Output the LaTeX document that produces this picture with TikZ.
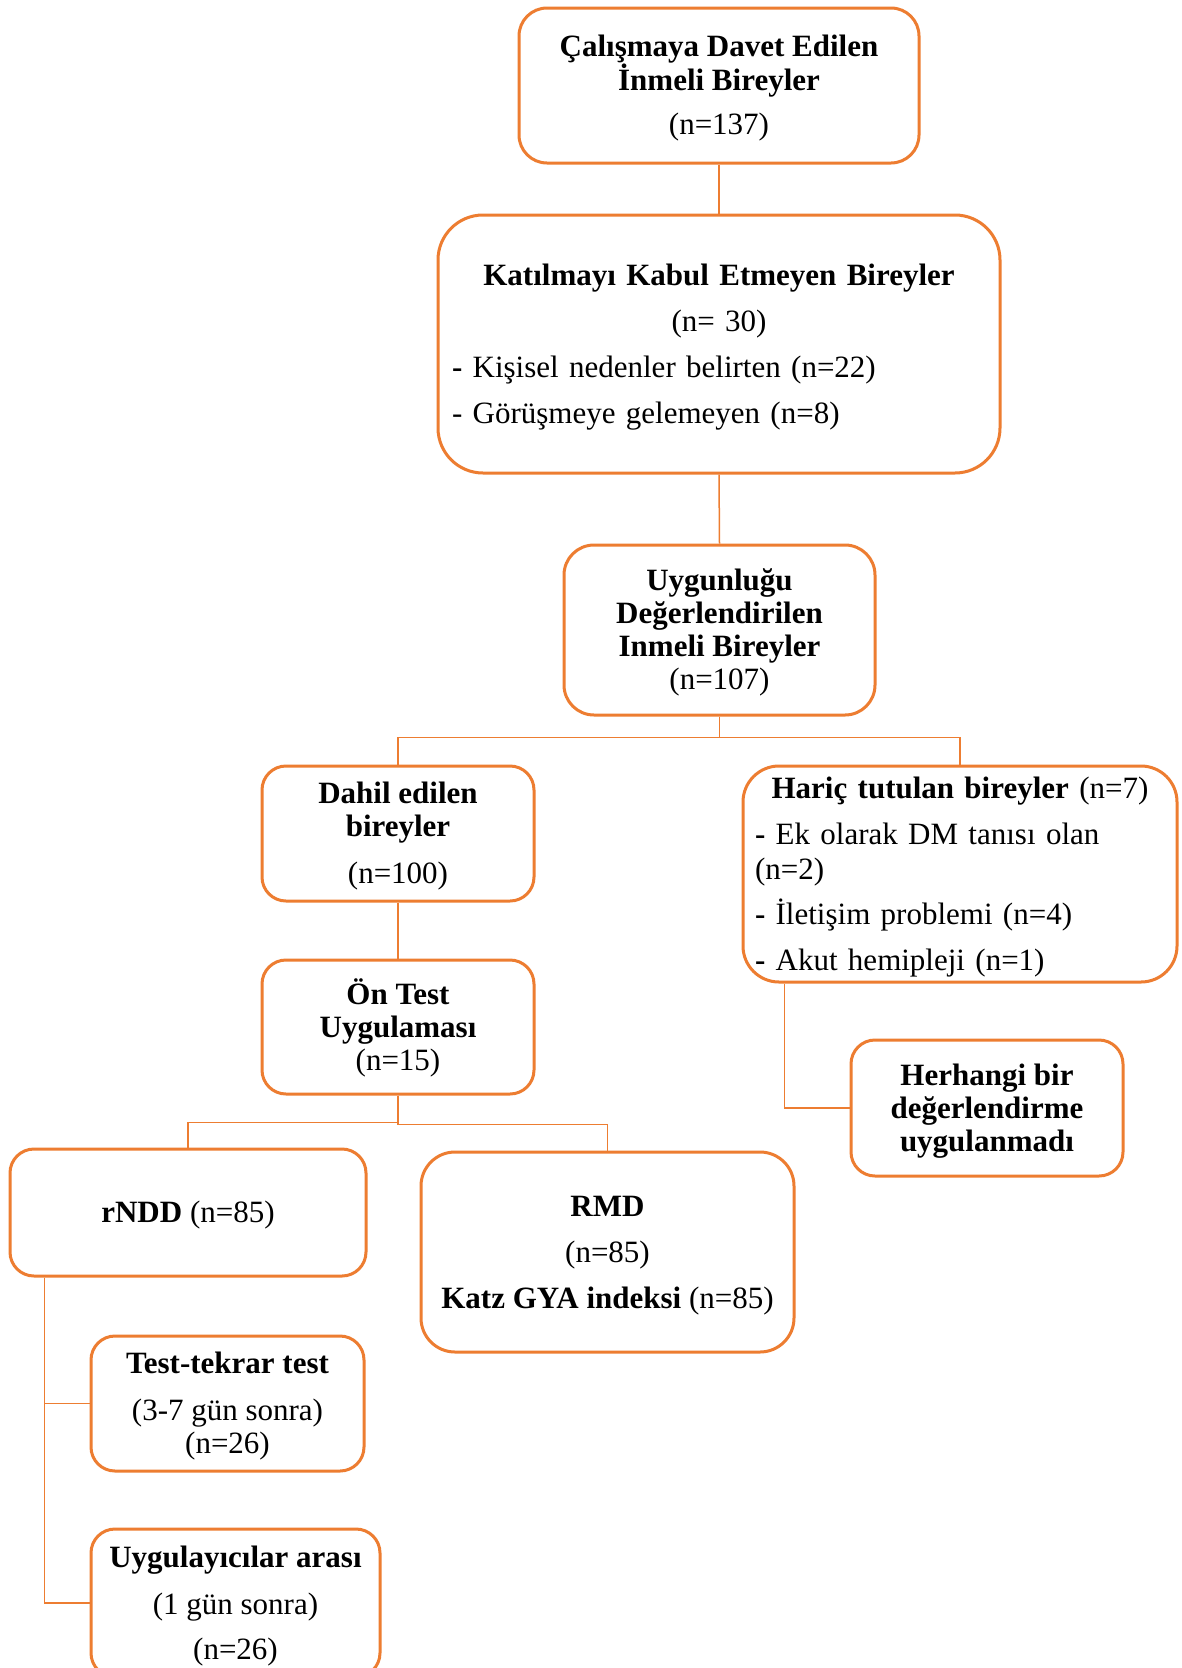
\documentclass[tikz,border=0pt]{standalone}
\usepackage{fontspec}
\setmainfont{Liberation Serif}
\definecolor{org}{HTML}{ED7D31}
\newcommand\fs{\fontsize{31}{33}\selectfont}
\newcommand\topstrut{\rule{0pt}{27pt}}
\newcommand\botstrut{\rule[-7pt]{0pt}{7pt}}
\begin{document}
\begin{tikzpicture}[x=1pt,y=-1pt,
  box/.style={draw=org, line width=3pt, rounded corners=#1, inner sep=0pt, align=center, font=\fs},
  box/.default=26pt,
  conn/.style={draw=org, line width=1.5pt}]
\fill[white] (0,0) rectangle (1182,1668);
\useasboundingbox (0,0) rectangle (1182,1668);
\clip (0,0) rectangle (1182,1668);

\node[box=28pt, minimum width=400pt, minimum height=155pt] (inv) at (719,85.5)
  {\topstrut\textbf{Çalışmaya Davet Edilen}\\\textbf{İnmeli Bireyler}\\[11pt](n=137)\botstrut};

\node[box=45pt, minimum width=562pt, minimum height=258pt, text width=534pt, align=left] (dec) at (719,344)
  {\topstrut\makebox[534pt][c]{\textbf{Katılmayı Kabul Etmeyen Bireyler}}\\[13pt]\makebox[534pt][c]{(n= 30)}\\[13pt]\textbf{-} Kişisel nedenler belirten (n=22)\\[13pt]- Görüşmeye gelemeyen (n=8)\botstrut};

\node[box=30pt, minimum width=311pt, minimum height=170pt] (elig) at (719.5,630)
  {\topstrut\textbf{Uygunluğu}\\\textbf{Değerlendirilen}\\\textbf{Inmeli Bireyler}\\(n=107)\botstrut};

\node[box=24pt, minimum width=272pt, minimum height=135pt] (incl) at (398,833.5)
  {\topstrut\textbf{Dahil edilen}\\\textbf{bireyler}\\[14pt](n=100)\botstrut};

\node[box=36pt, minimum width=434pt, minimum height=216pt, text width=410pt, align=left] (excl) at (960,874)
  {\topstrut\makebox[410pt][c]{\textbf{Hariç tutulan bireyler} (n=7)}\\[13pt]\textbf{-} Ek olarak DM tanısı olan\\[2pt](n=2)\\[12pt]\textbf{-} İletişim problemi (n=4)\\[13pt]\textbf{-} Akut hemipleji (n=1)\botstrut};

\node[box=24pt, minimum width=272pt, minimum height=134pt] (pre) at (398,1027)
  {\topstrut\textbf{Ön Test}\\\textbf{Uygulaması}\\(n=15)\botstrut};

\node[box=24pt, minimum width=356pt, minimum height=127pt] (rndd) at (188,1212.5)
  {\topstrut\textbf{rNDD} (n=85)\botstrut};

\node[box=34pt, minimum width=373pt, minimum height=200pt] (rmd) at (607.5,1252)
  {\topstrut\textbf{RMD}\\[13pt](n=85)\\[13pt]\textbf{Katz GYA indeksi} (n=85)\botstrut};

\node[box=24pt, minimum width=272pt, minimum height=136pt] (none) at (987,1108)
  {\topstrut\textbf{Herhangi bir}\\\textbf{değerlendirme}\\\textbf{uygulanmadı}\botstrut};

\node[box=24pt, minimum width=273pt, minimum height=135pt] (tt) at (227.5,1403.5)
  {\topstrut\textbf{Test-tekrar test}\\[14pt](3-7 gün sonra)\\(n=26)\botstrut};

\node[box=24pt, minimum width=289pt, minimum height=148pt] (inter) at (235.5,1603)
  {\topstrut\textbf{Uygulayıcılar arası}\\[14pt](1 gün sonra)\\[12pt](n=26)\botstrut};

\draw[conn] (inv.south) -- (dec.north);
\draw[conn] (dec.south) -- (elig.north);
\draw[conn] (elig.south) -- ++(0,21) -| (incl.north);
\draw[conn] (elig.south) -- ++(0,21) -| (excl.north);
\draw[conn] (incl.south) -- (pre.north);
\draw[conn] (pre.south) -- ++(0,27) -| (rndd.north);
\draw[conn] (pre.south) -- ++(0,29) -| (rmd.north);
\draw[conn] ([xshift=43pt]excl.south west) |- (none.west);
\draw[conn] ([xshift=36pt]rndd.south west) |- (tt.west);
\draw[conn] ([xshift=36pt]rndd.south west) |- (inter.west);
\end{tikzpicture}
\end{document}
